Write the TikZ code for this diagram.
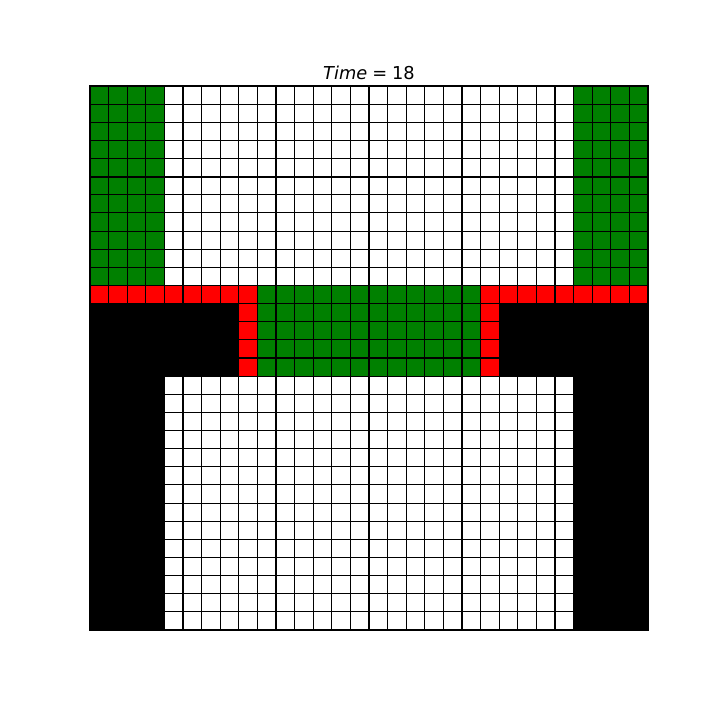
\documentclass[tikz,border=0pt]{standalone}
\usepackage{fontspec}
\setmainfont{DejaVu Sans}
\definecolor{mgreen}{RGB}{0,128,0}
\definecolor{mred}{RGB}{255,0,0}
\begin{document}
\begin{tikzpicture}[x=0.72pt,y=-0.72pt,
  gridline/.style={black,line width=0.75pt},
  majorline/.style={black,line width=1.5pt},
  greencell/.style={fill=mgreen},
  redcell/.style={fill=mred},
  blackcell/.style={fill=black}]
\useasboundingbox (0,0) rectangle (720,720);
\node[anchor=base,font=\fontsize{12.8pt}{15pt}\selectfont,inner sep=0pt] (title) at (369,80) {\textit{Time}\hspace{0.28em}=\hspace{0.28em}18};
\begin{scope}[shift={(90,86)},xscale=18.6,yscale=18.1333]
  \path[greencell] (0,0) rectangle (4,11);
  \path[greencell] (26,0) rectangle (30,11);
  \path[greencell] (9,11) rectangle (21,16);
  \path[redcell] (0,11) rectangle (9,12);
  \path[redcell] (21,11) rectangle (30,12);
  \path[redcell] (8,12) rectangle (9,16);
  \path[redcell] (21,12) rectangle (22,16);
  \path[blackcell] (0,12) rectangle (8,16);
  \path[blackcell] (22,12) rectangle (30,16);
  \path[blackcell] (0,16) rectangle (4,30);
  \path[blackcell] (26,16) rectangle (30,30);
  \foreach \i in {1,...,29} {
    \draw[gridline] (\i,0) -- (\i,30);
    \draw[gridline] (0,\i) -- (30,\i);
  }
  \foreach \c in {5,10,15,20,25} \draw[majorline] (\c,0) -- (\c,30);
  \draw[majorline] (0,5) -- (30,5);
  \draw[gridline] (0,0) rectangle (30,30);
\end{scope}
\end{tikzpicture}
\end{document}
